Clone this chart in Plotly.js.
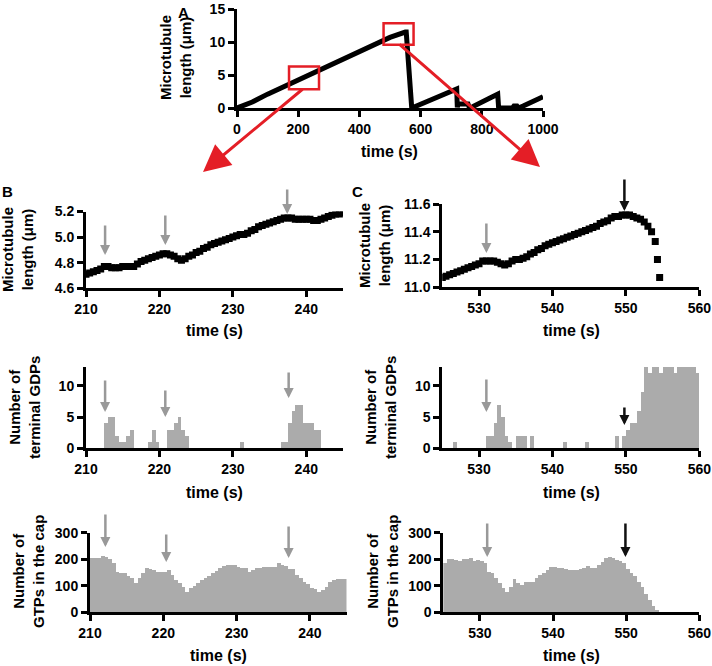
<!DOCTYPE html>
<html><head><meta charset="utf-8">
<script src="https://cdn.plot.ly/plotly-3.0.1.min.js"></script>
<style>html,body{margin:0;padding:0;background:#fff;}#chart{width:712px;height:666px;}</style>
</head><body><div id="chart"></div>
<script>
// ---------- Panel A: full length trace ----------
const timeA = [0, 50, 100, 150, 200, 250, 300, 350, 400, 450, 500, 550, 553, 571, 600, 650, 700, 718, 720, 722, 755, 760, 770, 800, 830, 852, 855, 900, 905, 915, 920, 935, 960, 1000];
const lengthA = [0, 0.9, 2.1, 3.2, 4.3, 5.4, 6.4, 7.5, 8.6, 9.7, 10.7, 11.5, 11.5, 0, 0.6, 1.6, 2.5, 2.9, 0.1, 0.6, 0.6, 0, 0.2, 1.0, 1.6, 2.1, 0, 0, 0.3, 0.3, 0, 0.3, 0.9, 1.7];
const zoomBoxB = {t: [170, 268], len: [2.85, 6.3]};
const zoomBoxC = {t: [479, 577], len: [9.6, 12.84]};

// ---------- Panel B (210-245 s) ----------
const startB = 210, stepB = 0.5;
const lengthB = [4.71,4.72,4.73,4.74,4.75,4.77,4.77,4.76,4.76,4.76,
  4.77,4.77,4.77,4.77,4.79,4.81,4.82,4.83,4.84,4.85,
  4.86,4.87,4.87,4.86,4.85,4.83,4.82,4.83,4.85,4.86,
  4.88,4.89,4.91,4.92,4.94,4.95,4.96,4.97,4.98,4.99,
  5.00,5.01,5.02,5.02,5.03,5.05,5.06,5.08,5.09,5.10,
  5.11,5.12,5.13,5.14,5.15,5.15,5.15,5.14,5.14,5.14,
  5.14,5.14,5.13,5.13,5.14,5.15,5.16,5.17,5.18,5.18,5.19];
const gdpTimeB = [212.5,213,213.5,214,214.5,215,215.5,216,218.5,219,219.5,221,221.5,222,222.5,223,223.5,231,236.5,237,237.5,238,238.5,239,239.5,240,240.5,241,241.5];
const gdpB = [4,5,5,2,1,1,2,3,1,3,1,3,3,4,5,3,2,1,1,1,4,6,7,7,4,4,4,3,3];
const gtpB = [204,204,206,213,210,200,185,153,147,147,
  137,130,109,128,147,166,163,160,153,153,
  153,160,141,122,110,97,78,91,100,109,
  120,128,135,147,155,166,175,179,179,179,
  172,166,166,153,160,166,166,170,172,172,
  172,185,178,175,165,163,141,130,116,108,
  92,88,78,85,97,116,122,125,125,125];

// ---------- Panel C (525-560 s) ----------
const startC = 525, stepC = 0.5;
const lengthC = [11.07,11.08,11.09,11.10,11.11,11.12,11.13,11.14,11.15,11.16,
  11.17,11.19,11.19,11.19,11.19,11.18,11.17,11.16,11.17,11.19,
  11.20,11.20,11.21,11.22,11.24,11.25,11.27,11.28,11.30,11.31,
  11.32,11.33,11.34,11.35,11.36,11.37,11.38,11.39,11.40,11.41,
  11.42,11.43,11.44,11.46,11.47,11.48,11.50,11.51,11.51,11.52,
  11.52,11.52,11.51,11.50,11.49,11.47,11.44,11.40];
const tailTimeC = [554.0, 554.3, 554.6];
const tailLengthC = [11.33, 11.20, 11.07];
const gdpTimeC = [526.5,531,531.5,532,532.5,533,533.5,534,535,535.5,536,537,541.5,544.5,548.5,549.5,550,550.5,551,551.5,552,552.5,553,553.5,554,554.5,555,555.5,556,556.5,557,557.5,558,558.5,559,559.5];
const gdpC = [1,2,2,4,7,5,2,1,2,2,2,2,1,1,2,2,3,4,4,6,9,13,12,13,13,12,13,13,13,12,13,13,13,13,13,12];
const gtpC = [185,200,200,197,195,200,202,204,195,197,
  193,185,153,147,130,110,91,78,95,125,
  110,104,116,116,116,128,140,150,158,170,
  170,168,166,162,160,160,160,163,168,175,
  168,166,179,190,206,208,206,197,192,185,
  165,150,135,115,95,70,45,25,8];

// ---------- helpers ----------
function seq(start, step, n){ const a=[]; for(let i=0;i<n;i++) a.push(+(start+i*step).toFixed(3)); return a; }
const W = 712, H = 666;
const dx = (a,b) => [a/W, b/W];
const dy = (top,bottom) => [1-bottom/H, 1-top/H];
const px = x => x/W, py = y => 1-y/H;

const FONT = 'Liberation Sans, Arial, Helvetica, sans-serif';
const TF = {family: FONT, size: 14, color: '#000', weight: 'bold'};
const BAR = '#ababab';
const GREY = '#999999';
const RED = 'rgb(228,30,38)';

const timeB = seq(startB, stepB, lengthB.length);
const gtpTimeB = seq(startB, stepB, gtpB.length);
const timeC = seq(startC, stepC, lengthC.length).concat(tailTimeC);
const lenC = lengthC.concat(tailLengthC);
const gtpTimeC = seq(startC, stepC, gtpC.length);

function ax(domain, range, extra){
  return Object.assign({domain: domain, range: range, showline: true, linecolor: '#000', linewidth: 3,
    ticks: 'outside', ticklen: 6, tickwidth: 3, tickcolor: '#000', showgrid: false, zeroline: false,
    tickfont: TF, fixedrange: true, automargin: false, ticklabeloverflow: 'allow'}, extra);
}

const data = [
  {x: timeA, y: lengthA, type: 'scatter', mode: 'lines', line: {color: '#000', width: 5}, xaxis: 'x', yaxis: 'y'},
  {x: timeB, y: lengthB, type: 'scatter', mode: 'markers', marker: {symbol: 'square', size: 7, color: '#000'}, xaxis: 'x2', yaxis: 'y2'},
  {x: timeC, y: lenC, type: 'scatter', mode: 'markers', marker: {symbol: 'square', size: 7, color: '#000'}, xaxis: 'x3', yaxis: 'y3'},
  {x: gdpTimeB, y: gdpB, type: 'bar', width: 0.5, offset: 0, marker: {color: BAR, line: {width: 0}}, xaxis: 'x4', yaxis: 'y4'},
  {x: gdpTimeC, y: gdpC, type: 'bar', width: 0.5, offset: 0, marker: {color: BAR, line: {width: 0}}, xaxis: 'x5', yaxis: 'y5'},
  {x: gtpTimeB, y: gtpB, type: 'bar', width: 0.5, offset: 0, marker: {color: BAR, line: {width: 0}}, xaxis: 'x6', yaxis: 'y6'},
  {x: gtpTimeC, y: gtpC, type: 'bar', width: 0.5, offset: 0, marker: {color: BAR, line: {width: 0}}, xaxis: 'x7', yaxis: 'y7'}
];

const ticksB = [210, 220, 230, 240];
const ticksC = [530, 540, 550, 560];

const layout = {
  width: W, height: H, margin: {l: 0, r: 0, t: 0, b: 0},
  paper_bgcolor: '#fff', plot_bgcolor: '#fff', showlegend: false, bargap: 0,
  font: {family: FONT, color: '#000'},
  xaxis: ax(dx(237, 543), [0, 1000], {anchor: 'y', tickvals: [0,200,400,600,800,1000]}),
  yaxis: ax(dy(9, 108), [0, 15], {anchor: 'x', tickvals: [0,5,10,15]}),
  xaxis2: ax(dx(86, 343), [210, 245], {anchor: 'y2', tickvals: ticksB}),
  yaxis2: ax(dy(211.5, 288.3), [4.6, 5.2], {anchor: 'x2', tickvals: [4.6,4.8,5.0,5.2], tickformat: '.1f'}),
  xaxis3: ax(dx(442.3, 699.3), [525, 560], {anchor: 'y3', tickvals: ticksC}),
  yaxis3: ax(dy(204, 287.3), [11.0, 11.6], {anchor: 'x3', tickvals: [11.0,11.2,11.4,11.6], tickformat: '.1f'}),
  xaxis4: ax(dx(86, 343), [210, 245], {anchor: 'y4', tickvals: ticksB}),
  yaxis4: ax(dy(367, 448.3), [0, 13], {anchor: 'x4', tickvals: [0,5,10]}),
  xaxis5: ax(dx(442.3, 699.3), [525, 560], {anchor: 'y5', tickvals: ticksC}),
  yaxis5: ax(dy(367, 448.3), [0, 13], {anchor: 'x5', tickvals: [0,5,10]}),
  xaxis6: ax(dx(90, 346.5), [210, 245], {anchor: 'y6', tickvals: ticksB}),
  yaxis6: ax(dy(532.7, 612.3), [0, 300], {anchor: 'x6', tickvals: [0,100,200,300]}),
  xaxis7: ax(dx(443.3, 699.3), [525, 560], {anchor: 'y7', tickvals: ticksC}),
  yaxis7: ax(dy(532.7, 612.3), [0, 300], {anchor: 'x7', tickvals: [0,100,200,300]}),
  shapes: [
    {type: 'rect', xref: 'x', yref: 'y', x0: zoomBoxB.t[0], x1: zoomBoxB.t[1], y0: zoomBoxB.len[0], y1: zoomBoxB.len[1], line: {color: RED, width: 2.5}, fillcolor: 'rgba(0,0,0,0)'},
    {type: 'rect', xref: 'x', yref: 'y', x0: zoomBoxC.t[0], x1: zoomBoxC.t[1], y0: zoomBoxC.len[0], y1: zoomBoxC.len[1], line: {color: RED, width: 2.5}, fillcolor: 'rgba(0,0,0,0)'}
  ],
  annotations: []
};

const A = layout.annotations;
function label(text, x, y, size){ A.push({text: text, xref: 'paper', yref: 'paper', x: px(x), y: py(y), xanchor: 'center', yanchor: 'middle', showarrow: false, font: {family: FONT, size: size, color: '#000', weight: 'bold'}}); }
function ytitle(text, x, y){ A.push({text: text, xref: 'paper', yref: 'paper', x: px(x), y: py(y), xanchor: 'center', yanchor: 'middle', textangle: -90, showarrow: false, align: 'center', font: {family: FONT, size: 15, color: '#000', weight: 'bold'}}); }

// panel letters
label('A', 183, 12, 15);
label('B', 7, 192, 15);
label('C', 357, 192, 15);
// x titles
label('time (s)', 390, 152, 16);
label('time (s)', 214, 330, 16);
label('time (s)', 571, 330, 16);
label('time (s)', 214, 492, 16);
label('time (s)', 571, 492, 16);
label('time (s)', 218, 655, 16);
label('time (s)', 571, 655, 16);
// y titles
ytitle('Microtubule<br>length (μm)', 175, 58);
ytitle('Microtubule<br>length (μm)', 18, 250);
ytitle('Microtubule<br>length (μm)', 374, 246);
ytitle('Number of<br>terminal GDPs', 24, 408);
ytitle('Number of<br>terminal GDPs', 380, 408);
ytitle('Number of<br>GTPs in the cap', 28, 572);
ytitle('Number of<br>GTPs in the cap', 382, 572);

// red zoom arrows (tip in page px, tail offset px)
A.push({xref: 'paper', yref: 'paper', x: px(203), y: py(172), ax: 101, ay: -84, text: '', showarrow: true, arrowhead: 2, arrowsize: 1.8, arrowwidth: 3, arrowcolor: RED, standoff: 0});
A.push({xref: 'paper', yref: 'paper', x: px(540), y: py(167), ax: -142, ay: -124, text: '', showarrow: true, arrowhead: 2, arrowsize: 1.8, arrowwidth: 3, arrowcolor: RED, standoff: 0});

// event arrows: [x-axis, time, tip px y, tail px y, color]
const eventArrows = [
  ['x2', 212.6, 255, 224, GREY], ['x2', 220.8, 245, 214, GREY], ['x2', 237.4, 214, 188, GREY],
  ['x3', 531.0, 253, 222, GREY], ['x3', 549.8, 211, 178, '#111'],
  ['x4', 212.6, 412, 379, GREY], ['x4', 220.8, 417, 389, GREY], ['x4', 237.6, 398, 371, GREY],
  ['x5', 531.0, 412, 378, GREY], ['x5', 549.8, 425, 406, '#111'],
  ['x6', 212.1, 547, 513, GREY], ['x6', 220.4, 562, 533, GREY], ['x6', 237.1, 558, 525, GREY],
  ['x7', 531.0, 557, 522, GREY], ['x7', 549.9, 557, 522, '#111']
];
eventArrows.forEach(e => A.push({xref: e[0], yref: 'paper', x: e[1], y: py(e[2]), ax: 0, ay: e[3]-e[2], text: '', showarrow: true, arrowhead: 2, arrowsize: 0.8, arrowwidth: 2.5, arrowcolor: e[4], standoff: 0}));

Plotly.newPlot('chart', data, layout, {displayModeBar: false, staticPlot: true});
</script></body></html>
